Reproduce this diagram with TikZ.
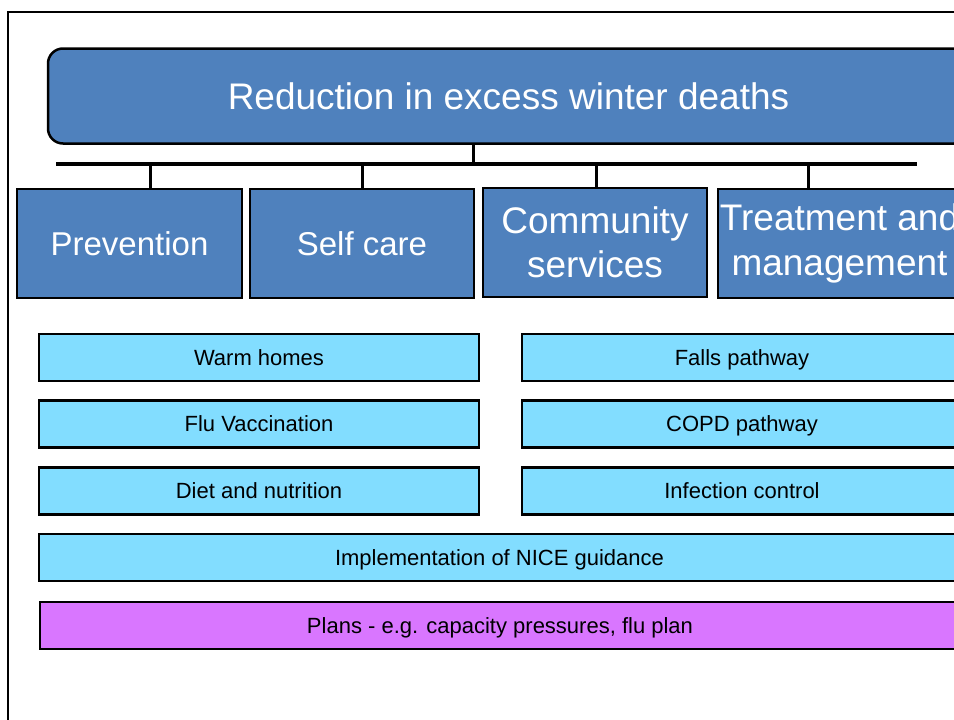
\documentclass[tikz,border=0pt]{standalone}
\usepackage{fontspec}
\setmainfont{Liberation Sans}
\usetikzlibrary{positioning}
\definecolor{darkbox}{RGB}{79,129,189}
\definecolor{lightbox}{RGB}{130,221,255}
\definecolor{planbox}{RGB}{217,118,255}
\tikzstyle{topic} = [rectangle, draw, line width=2.5pt, fill=darkbox, text=white, align=center, inner sep=0pt, minimum height=109pt]
\tikzstyle{item} = [rectangle, draw, line width=2.5pt, fill=lightbox, text=black, inner sep=0pt, minimum height=47pt, text height=15.75pt, text depth=0pt, font=\fontsize{22}{26}\selectfont]
\tikzstyle{stub} = [line width=3pt]

\begin{document}
\begin{tikzpicture}[x=1pt, y=-1pt]

\useasboundingbox (0,0) rectangle (954,720);
\clip (0,0) rectangle (954,720);

\draw[line width=2pt] (8,12) rectangle (1000,800);

\node[rectangle, draw, line width=2.5pt, fill=darkbox, text=white, rounded corners=15pt, minimum width=921pt, minimum height=95pt, text height=26.5pt, text depth=0pt, font=\fontsize{37}{44}\selectfont] (title) at (508.5,96) {Reduction in excess winter deaths};

% bar and stubs

\coordinate (bar_l) at (56,164);
\coordinate (bar_r) at (917,164);
\coordinate (bar_t) at (473,164);
\coordinate (bar_1) at (150,164);
\coordinate (bar_2) at (362,164);
\coordinate (bar_3) at (596,164);
\coordinate (bar_4) at (808,164);

\draw[line width=3.5pt] (bar_l) -- (bar_r);
\draw[stub] (bar_t |- title.south) -- (bar_t);

% themes

\node[topic, minimum width=225pt, text height=23.6pt, text depth=0pt, font=\fontsize{33}{40}\selectfont] (prevention) at (129.5,243.5) {Prevention};
\node[topic, minimum width=224pt, text height=23.6pt, text depth=0pt, font=\fontsize{33}{40}\selectfont] (selfcare) at (362,243.5) {Self care};
\node[topic, minimum width=224pt, font=\fontsize{37}{44}\selectfont] (community) at (595,242.5) {Community\\services};
\node[topic, minimum width=243pt, font=\fontsize{37}{45}\selectfont] (treatment) at (839.5,243.5) {Treatment and\\management};

\draw[stub] (bar_1) -- (bar_1 |- prevention.north);
\draw[stub] (bar_2) -- (bar_2 |- selfcare.north);
\draw[stub] (bar_3) -- (bar_3 |- community.north);
\draw[stub] (bar_4) -- (bar_4 |- treatment.north);

% left side

\node[item, minimum width=440pt] (warmhomes) at (259,357.5) {Warm homes};
\node[item, minimum width=440pt] (flu) at (259,424) {Flu Vaccination};
\node[item, minimum width=440pt] (diet) at (259,491) {Diet and nutrition};

% right side

\node[item, minimum width=440pt] (falls) at (742,357.5) {Falls pathway};
\node[item, minimum width=440pt] (copd) at (742,424) {COPD pathway};
\node[item, minimum width=440pt] (infection) at (742,491) {Infection control};

% across

\node[item, minimum width=921pt] (nice) at (499.5,557.5) {Implementation of NICE guidance};
\node[item, minimum width=920pt, fill=planbox] (plans) at (500,625.5) {Plans - e.g. capacity pressures, flu plan};

\end{tikzpicture}
\end{document}
